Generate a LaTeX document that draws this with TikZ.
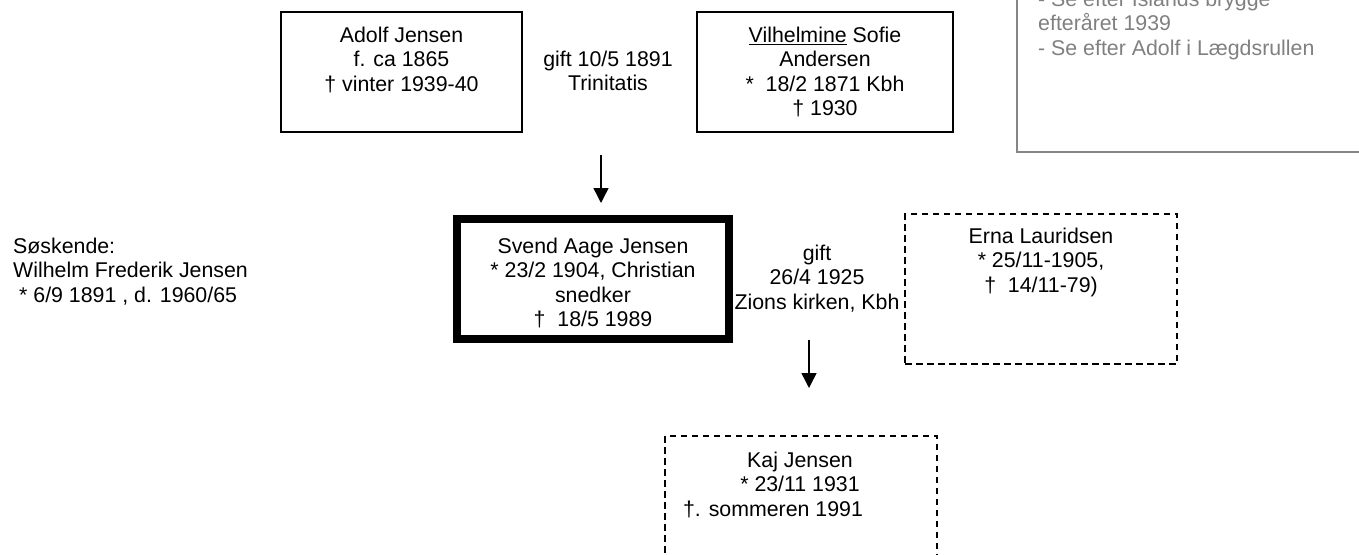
\documentclass[tikz,border=0pt]{standalone}
\usepackage{fontspec}
\setmainfont{Liberation Sans}
\usetikzlibrary{arrows.meta}
\newcommand{\mystrut}{\rule{0pt}{18pt}}
\begin{document}
\begin{tikzpicture}[x=1pt,y=-1pt,
  solidbox/.style={draw, line width=1.4pt, inner sep=0pt},
  mainbox/.style={draw, line width=8pt, inner sep=0pt},
  dashbox/.style={draw, line width=1.5pt, dash pattern=on 6.5pt off 4.5pt, inner sep=0pt},
  notebox/.style={draw=gray!95, line width=1.6pt, inner sep=0pt},
  txt/.style={font=\fontsize{21.33}{24.5}\selectfont, align=center, inner sep=0pt, anchor=north},
  ltxt/.style={font=\fontsize{21.33}{24.5}\selectfont, align=left, inner sep=0pt, anchor=north west},
  arr/.style={line width=1.5pt, -{Triangle[width=15pt,length=15pt]}}
]
\useasboundingbox (0,0) rectangle (1359,554);
\clip (0,0) rectangle (1359,554);

% boxes
\node[solidbox, minimum width=241pt, minimum height=120pt] (adolf) at (401.5,72) {};
\node[solidbox, minimum width=256pt, minimum height=120pt] (vilh) at (825,72) {};
\node[mainbox, minimum width=272pt, minimum height=120pt] (svend) at (593,279) {};
\node[dashbox, minimum width=272pt, minimum height=150pt] (erna) at (1041,289) {};
\node[dashbox, minimum width=272pt, minimum height=160pt] (kaj) at (801,516) {};
\node[notebox, minimum width=400pt, minimum height=200pt] (notes) at (1217,52) {};

% texts
\node[txt] (adolft) at (401.5,24) {\mystrut Adolf Jensen\\f. ca 1865\\† vinter 1939-40};
\node[txt] (gift1) at (608,48) {\mystrut gift 10/5 1891\\Trinitatis};
\node[txt] (vilht) at (825,24) {\mystrut\underline{Vilhelmine} Sofie\\Andersen\\*\ \ 18/2 1871 Kbh\\† 1930};
\node[txt] (svendt) at (593,235) {\mystrut Svend Aage Jensen\\* 23/2 1904, Christian\\snedker\\†\ \ 18/5 1989};
\node[txt] (gift2) at (817,242) {\mystrut gift\\26/4 1925\\Zions kirken, Kbh};
\node[txt] (ernat) at (1041,225) {\mystrut Erna Lauridsen\\* 25/11-1905,\\†\ \ 14/11-79)};
\node[txt] (kajt) at (800,449) {\mystrut Kaj Jensen\\* 23/11 1931\\†. sommeren 1991\hspace*{54pt}};
\node[ltxt] (sosk) at (13,235) {\mystrut Søskende:\\Wilhelm Frederik Jensen\\\hspace*{6pt}* 6/9 1891 , d. 1960/65};
\node[ltxt, text=gray] (notest) at (1038,-12) {\mystrut - Se efter Islands brygge\\efteråret 1939\\- Se efter Adolf i Lægdsrullen};

% arrows
\coordinate (a1s) at (601,155);
\coordinate (a1e) at (601,203);
\coordinate (a2s) at (809,340);
\coordinate (a2e) at (809,388);
\draw[arr] (a1s) -- (a1e);
\draw[arr] (a2s) -- (a2e);
\end{tikzpicture}
\end{document}
